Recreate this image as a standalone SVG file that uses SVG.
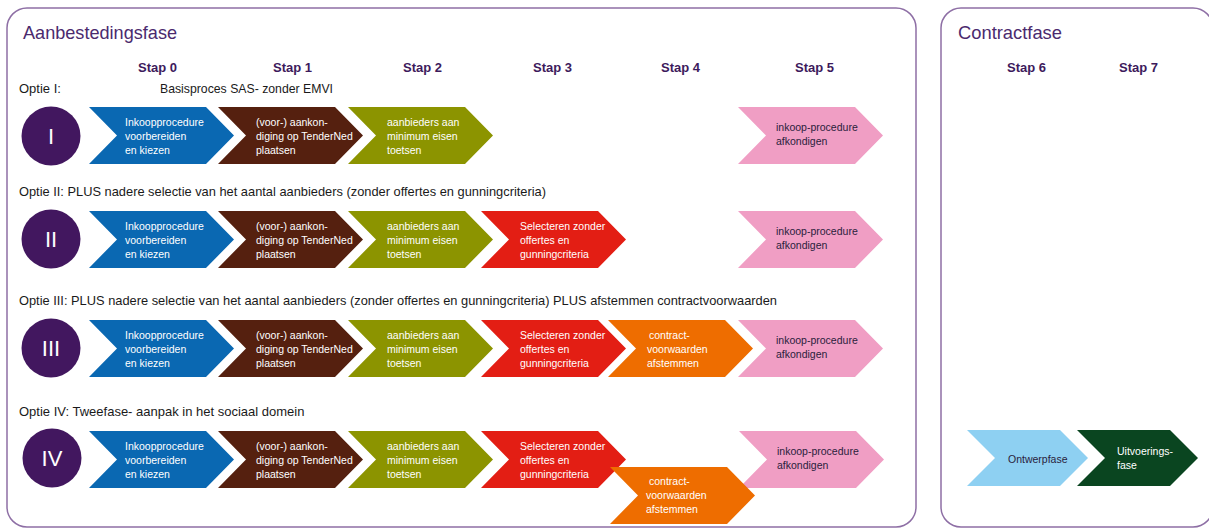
<svg xmlns="http://www.w3.org/2000/svg" xmlns:xlink="http://www.w3.org/1999/xlink" width="1209" height="530" viewBox="0 0 1209 530">
<style>
.panel{fill:#fff;stroke:#8e6fa5;stroke-width:1.5}
.title{font-family:"Liberation Sans",Arial,sans-serif;font-size:19px;fill:#4b2a6e}
.stap{font-family:"Liberation Sans",Arial,sans-serif;font-size:13px;font-weight:bold;fill:#3d1a5c}
.opt{font-family:"Liberation Sans",Arial,sans-serif;font-size:13px;fill:#1a1a1a}
.ct{font-family:"Liberation Sans",Arial,sans-serif;font-size:10.5px;fill:#fff}
.cd{font-family:"Liberation Sans",Arial,sans-serif;font-size:10.5px;fill:#2a1d3c}
.num{font-family:"Liberation Sans",Arial,sans-serif;font-size:22px;fill:#fff;text-anchor:middle}
.circ{fill:#42175f}
.blue{fill:#0a68b2}.brown{fill:#55200f}.olive{fill:#8c9400}.red{fill:#e31e14}.orange{fill:#ee6d00}.pink{fill:#f09ec4}.lblue{fill:#8ed0f2}.dgreen{fill:#0a4520}
</style>
<defs>
<path id="chev" d="M0,0 H117 L145,28.5 L117,57 H0 L28,28.5 Z"/>
<path id="chevS" d="M0,0 H93 L121,28 L93,56 H0 L28,28 Z"/>
</defs>
<rect class="panel" x="7" y="8" width="909" height="519" rx="20"/>
<rect class="panel" x="941" y="8" width="272" height="519" rx="20"/>
<text class="title" x="23" y="39" textLength="154" lengthAdjust="spacingAndGlyphs">Aanbestedingsfase</text>
<text class="title" x="958" y="39" textLength="104" lengthAdjust="spacingAndGlyphs">Contractfase</text>
<g id="stappen">
<text class="stap" x="138" y="72">Stap 0</text>
<text class="stap" x="273" y="72">Stap 1</text>
<text class="stap" x="403" y="72">Stap 2</text>
<text class="stap" x="533" y="72">Stap 3</text>
<text class="stap" x="661" y="72">Stap 4</text>
<text class="stap" x="795" y="72">Stap 5</text>
<text class="stap" x="1007" y="72">Stap 6</text>
<text class="stap" x="1119" y="72">Stap 7</text>
</g>
<g id="opties">
<text class="opt" x="19" y="93">Optie I:</text>
<text class="opt" x="160" y="93" textLength="173" lengthAdjust="spacingAndGlyphs">Basisproces SAS- zonder EMVI</text>
<text class="opt" x="19" y="196" textLength="527" lengthAdjust="spacingAndGlyphs">Optie II: PLUS nadere selectie van het aantal aanbieders (zonder offertes en gunningcriteria)</text>
<text class="opt" x="19" y="305" textLength="758" lengthAdjust="spacingAndGlyphs">Optie III: PLUS nadere selectie van het aantal aanbieders (zonder offertes en gunningcriteria) PLUS afstemmen contractvoorwaarden</text>
<text class="opt" x="19" y="416">Optie IV: Tweefase- aanpak in het sociaal domein</text>
</g>
<!-- Row I -->
<g id="c1"><circle class="circ" cx="51" cy="136" r="29.5"/><text class="num" x="51" y="144">I</text></g>
<g id="r1s0"><use xlink:href="#chev" class="blue" x="89" y="107"/><text class="ct" x="125" y="126">Inkoopprocedure</text><text class="ct" x="125" y="140">voorbereiden</text><text class="ct" x="125" y="154">en kiezen</text></g>
<g id="r1s1"><use xlink:href="#chev" class="brown" x="218" y="107"/><text class="ct" x="256" y="126">(voor-) aankon-</text><text class="ct" x="256" y="140">diging op TenderNed</text><text class="ct" x="256" y="154">plaatsen</text></g>
<g id="r1s2"><use xlink:href="#chev" class="olive" x="348" y="107"/><text class="ct" x="387" y="126">aanbieders aan</text><text class="ct" x="387" y="140">minimum eisen</text><text class="ct" x="387" y="154">toetsen</text></g>
<g id="r1s5"><use xlink:href="#chev" class="pink" x="738" y="107"/><text class="cd" x="776" y="131">inkoop-procedure</text><text class="cd" x="776" y="145">afkondigen</text></g>
<!-- Row II -->
<g id="c2"><circle class="circ" cx="51" cy="239" r="29.5"/><text class="num" x="51" y="247">II</text></g>
<g id="r2s0"><use xlink:href="#chev" class="blue" x="89" y="211"/><text class="ct" x="125" y="230">Inkoopprocedure</text><text class="ct" x="125" y="244">voorbereiden</text><text class="ct" x="125" y="258">en kiezen</text></g>
<g id="r2s1"><use xlink:href="#chev" class="brown" x="218" y="211"/><text class="ct" x="256" y="230">(voor-) aankon-</text><text class="ct" x="256" y="244">diging op TenderNed</text><text class="ct" x="256" y="258">plaatsen</text></g>
<g id="r2s2"><use xlink:href="#chev" class="olive" x="348" y="211"/><text class="ct" x="387" y="230">aanbieders aan</text><text class="ct" x="387" y="244">minimum eisen</text><text class="ct" x="387" y="258">toetsen</text></g>
<g id="r2s3"><use xlink:href="#chev" class="red" x="481" y="211"/><text class="ct" x="520" y="230">Selecteren zonder</text><text class="ct" x="520" y="244">offertes en</text><text class="ct" x="520" y="258">gunningcriteria</text></g>
<g id="r2s5"><use xlink:href="#chev" class="pink" x="738" y="211"/><text class="cd" x="776" y="235">inkoop-procedure</text><text class="cd" x="776" y="249">afkondigen</text></g>
<!-- Row III -->
<g id="c3"><circle class="circ" cx="51" cy="348" r="29.5"/><text class="num" x="51" y="356">III</text></g>
<g id="r3s0"><use xlink:href="#chev" class="blue" x="89" y="320"/><text class="ct" x="125" y="339">Inkoopprocedure</text><text class="ct" x="125" y="353">voorbereiden</text><text class="ct" x="125" y="367">en kiezen</text></g>
<g id="r3s1"><use xlink:href="#chev" class="brown" x="218" y="320"/><text class="ct" x="256" y="339">(voor-) aankon-</text><text class="ct" x="256" y="353">diging op TenderNed</text><text class="ct" x="256" y="367">plaatsen</text></g>
<g id="r3s2"><use xlink:href="#chev" class="olive" x="348" y="320"/><text class="ct" x="387" y="339">aanbieders aan</text><text class="ct" x="387" y="353">minimum eisen</text><text class="ct" x="387" y="367">toetsen</text></g>
<g id="r3s3"><use xlink:href="#chev" class="red" x="481" y="320"/><text class="ct" x="520" y="339">Selecteren zonder</text><text class="ct" x="520" y="353">offertes en</text><text class="ct" x="520" y="367">gunningcriteria</text></g>
<g id="r3s4"><use xlink:href="#chev" class="orange" x="608" y="320"/><text class="ct" x="649" y="339">contract-</text><text class="ct" x="647" y="353">voorwaarden</text><text class="ct" x="647" y="367">afstemmen</text></g>
<g id="r3s5"><use xlink:href="#chev" class="pink" x="738" y="320"/><text class="cd" x="776" y="344">inkoop-procedure</text><text class="cd" x="776" y="358">afkondigen</text></g>
<!-- Row IV -->
<g id="c4"><circle class="circ" cx="52" cy="458" r="29.5"/><text class="num" x="52" y="466">IV</text></g>
<g id="r4s0"><use xlink:href="#chev" class="blue" x="89" y="431"/><text class="ct" x="125" y="450">Inkoopprocedure</text><text class="ct" x="125" y="464">voorbereiden</text><text class="ct" x="125" y="478">en kiezen</text></g>
<g id="r4s1"><use xlink:href="#chev" class="brown" x="218" y="431"/><text class="ct" x="256" y="450">(voor-) aankon-</text><text class="ct" x="256" y="464">diging op TenderNed</text><text class="ct" x="256" y="478">plaatsen</text></g>
<g id="r4s2"><use xlink:href="#chev" class="olive" x="348" y="431"/><text class="ct" x="387" y="450">aanbieders aan</text><text class="ct" x="387" y="464">minimum eisen</text><text class="ct" x="387" y="478">toetsen</text></g>
<g id="r4s3"><use xlink:href="#chev" class="red" x="481" y="431"/><text class="ct" x="520" y="450">Selecteren zonder</text><text class="ct" x="520" y="464">offertes en</text><text class="ct" x="520" y="478">gunningcriteria</text></g>
<g id="r4s5"><use xlink:href="#chev" class="pink" x="739" y="431"/><text class="cd" x="777" y="455">inkoop-procedure</text><text class="cd" x="777" y="469">afkondigen</text></g>
<g id="r4s4"><use xlink:href="#chev" class="orange" x="610" y="467"/><text class="ct" x="649" y="485">contract-</text><text class="ct" x="646" y="499">voorwaarden</text><text class="ct" x="646" y="513">afstemmen</text></g>
<!-- Contractfase -->
<g id="s6"><use xlink:href="#chevS" class="lblue" x="967" y="430"/><text class="cd" x="1008" y="463">Ontwerpfase</text></g>
<g id="s7"><use xlink:href="#chevS" class="dgreen" x="1077" y="430"/><text class="ct" x="1117" y="455">Uitvoerings-</text><text class="ct" x="1117" y="469">fase</text></g>
<g id="connectors"/>
</svg>
